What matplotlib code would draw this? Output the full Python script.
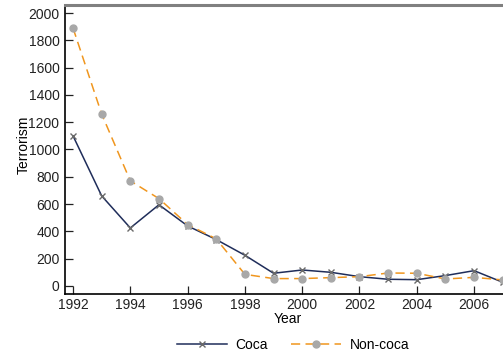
import matplotlib.pyplot as plt
import matplotlib.ticker as mticker

plt.rcParams['font.family'] = ['Liberation Sans', 'DejaVu Sans']

years = list(range(1992, 2008))
coca = [1100, 660, 425, 595, 440, 340, 225, 93, 117, 100, 68, 49, 46, 76, 112, 27]
non_coca = [1890, 1260, 770, 640, 450, 345, 85, 54, 54, 61, 68, 95, 93, 51, 63, 44]

fig = plt.figure(figsize=(5.03, 3.56), dpi=100)
ax = fig.add_axes([65 / 503, 62 / 356, 438 / 503, 289 / 356])

ax.plot(years, coca, color='#1f2d5a', lw=1.1, marker='x', ms=4.5,
        mec='#6a6a6a', mew=1.0, label='Coca')
ax.plot(years, non_coca, color='#f0961e', lw=1.1, ls=(0, (6, 3.5)), marker='o',
        ms=5, mfc='#a8a8a8', mec='#a8a8a8', label='Non-coca')

ax.set_xlim(1991.72, 2007.01)
ax.set_ylim(-59, 2059)
ax.set_xticks(range(1992, 2008, 2))
ax.yaxis.set_major_locator(mticker.MultipleLocator(200))
ax.tick_params(direction='in', length=5.5, width=0.9, labelsize=10, colors='#222222')
ax.tick_params(axis='y', pad=4)
ax.tick_params(axis='x', pad=3)

ax.spines['right'].set_visible(False)
ax.spines['top'].set_color('#808080')
ax.spines['top'].set_linewidth(2.2)
ax.spines['left'].set_linewidth(1.2)
ax.spines['bottom'].set_linewidth(1.2)

ax.set_xlabel('Year', fontsize=10)
ax.set_ylabel('Terrorism', fontsize=10)
ax.xaxis.set_label_coords(0.509, -0.064)
ax.yaxis.set_label_coords(-0.078, 0.516)

fig.legend(loc='center', bbox_to_anchor=(293 / 503, 11 / 356), ncol=2, frameon=False,
           fontsize=10, handlelength=3.6, handletextpad=0.6, columnspacing=1.7)

fig.savefig('out.png', dpi=100)
